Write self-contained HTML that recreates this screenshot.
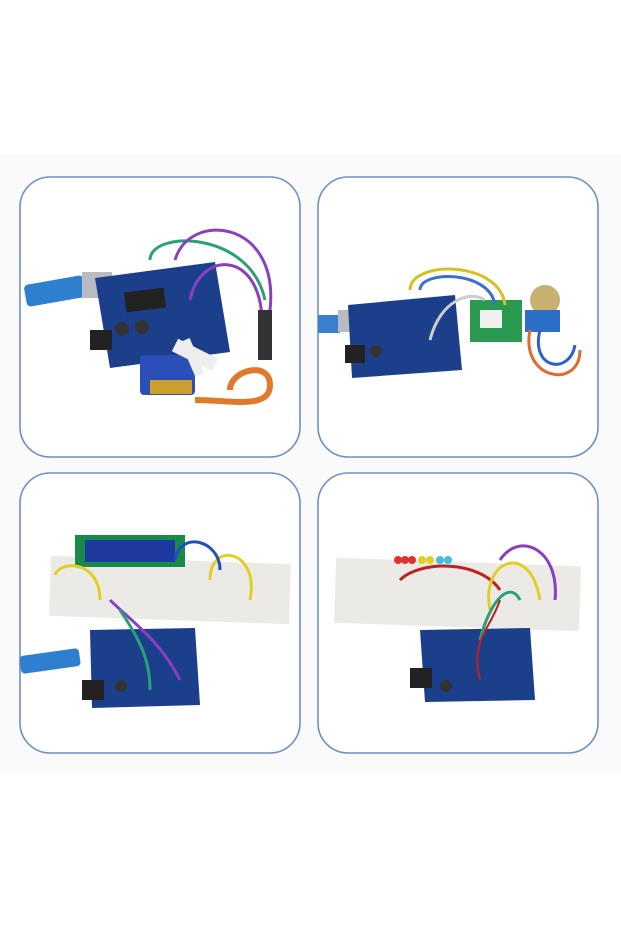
<!DOCTYPE html>
<html><head><style>
html,body{margin:0;padding:0;background:#fff;}
svg{display:block}
</style></head><body>
<svg width="621" height="931" viewBox="0 0 621 931" xmlns="http://www.w3.org/2000/svg">
<rect x="0" y="0" width="621" height="931" fill="#fff"/>
<rect x="0" y="155" width="621" height="620" fill="#fafafa"/>
<g fill="#fff" stroke="#6f8fc4" stroke-width="1.6">
<rect x="20" y="177" width="280" height="280" rx="30"/>
<rect x="318" y="177" width="280" height="280" rx="30"/>
<rect x="20" y="473" width="280" height="280" rx="30"/>
<rect x="318" y="473" width="280" height="280" rx="30"/>
</g>
<!-- Panel 1 -->
<rect x="25" y="280" width="60" height="22" rx="4" fill="#2f7fd0" transform="rotate(-10 55 291)"/>
<rect x="82" y="272" width="30" height="26" fill="#b8bcc2"/>
<polygon points="95,278 215,262 230,352 110,368" fill="#1c3f8c"/>
<rect x="125" y="290" width="40" height="20" fill="#222" transform="rotate(-7 145 300)"/>
<rect x="115" y="322" width="14" height="14" rx="7" fill="#333"/><rect x="135" y="320" width="14" height="14" rx="7" fill="#333"/>
<rect x="90" y="330" width="22" height="20" fill="#222"/>
<rect x="140" y="355" width="55" height="40" rx="4" fill="#2a4fb8"/>
<rect x="150" y="380" width="42" height="14" fill="#c9a030"/>
<path d="M175 345 L215 365" stroke="#eee" stroke-width="14"/>
<path d="M185 340 L200 375" stroke="#eee" stroke-width="10"/>
<path d="M150 260 C150 230 250 230 265 300" stroke="#2aa07a" stroke-width="3" fill="none"/>
<path d="M175 260 C190 210 280 220 270 310" stroke="#8a3fc0" stroke-width="3" fill="none"/>
<path d="M190 300 C200 250 260 250 262 320" stroke="#8a3fc0" stroke-width="3" fill="none"/>
<rect x="258" y="310" width="14" height="50" fill="#333"/>
<path d="M195 400 C230 400 270 410 270 385 C270 360 230 370 230 390" stroke="#e07a2a" stroke-width="6" fill="none"/>
<!-- Panel 2 -->
<rect x="318" y="315" width="22" height="18" fill="#3a7fd0"/>
<rect x="338" y="310" width="28" height="22" fill="#b8bcc2"/>
<polygon points="348,305 455,295 462,370 352,378" fill="#1c3f8c"/>
<rect x="345" y="345" width="20" height="18" fill="#222"/>
<rect x="370" y="345" width="12" height="12" rx="6" fill="#333"/>
<rect x="470" y="300" width="52" height="42" fill="#2a9a50"/>
<rect x="480" y="310" width="22" height="18" fill="#f0f0f0"/>
<circle cx="545" cy="300" r="15" fill="#c8b070"/>
<rect x="525" y="310" width="35" height="22" fill="#2a6fc8"/>
<path d="M410 290 C410 260 500 260 505 305" stroke="#d8c020" stroke-width="3" fill="none"/>
<path d="M420 290 C420 270 490 270 495 305" stroke="#3a70d0" stroke-width="3" fill="none"/>
<path d="M430 340 C440 300 470 290 485 300" stroke="#ccc" stroke-width="3" fill="none"/>
<path d="M530 330 C520 380 580 390 580 350" stroke="#e06a30" stroke-width="3" fill="none"/>
<path d="M540 330 C530 370 570 375 575 345" stroke="#3060d0" stroke-width="3" fill="none"/>
<!-- Panel 3 -->
<rect x="50" y="560" width="240" height="60" fill="#eceae6" transform="rotate(2 170 590)"/>
<rect x="75" y="535" width="110" height="32" fill="#1a8a4a"/>
<rect x="85" y="540" width="90" height="22" fill="#1c3aa0"/>
<rect x="20" y="652" width="60" height="18" rx="4" fill="#2f7fd0" transform="rotate(-8 50 661)"/>
<polygon points="90,630 195,628 200,705 92,708" fill="#1c3f8c"/>
<rect x="82" y="680" width="22" height="20" fill="#222"/>
<rect x="115" y="680" width="12" height="12" rx="6" fill="#333"/>
<path d="M55 575 C60 560 100 560 100 600" stroke="#e0d020" stroke-width="3" fill="none"/>
<path d="M210 580 C210 540 260 550 250 600" stroke="#e0d020" stroke-width="3" fill="none"/>
<path d="M110 600 C130 620 160 640 180 680" stroke="#8a3fc0" stroke-width="3" fill="none"/>
<path d="M120 610 C140 640 150 660 150 690" stroke="#2aa07a" stroke-width="3" fill="none"/>
<path d="M175 560 C180 530 220 540 220 570" stroke="#2050c0" stroke-width="3" fill="none"/>
<!-- Panel 4 -->
<rect x="335" y="562" width="245" height="65" fill="#eceae6" transform="rotate(2 457 595)"/>
<g fill="#e03030"><circle cx="398" cy="560" r="4"/><circle cx="405" cy="560" r="4"/><circle cx="412" cy="560" r="4"/></g>
<g fill="#e0d020"><circle cx="422" cy="560" r="4"/><circle cx="430" cy="560" r="4"/></g>
<g fill="#40c0e0"><circle cx="440" cy="560" r="4"/><circle cx="448" cy="560" r="4"/></g>
<polygon points="420,630 530,628 535,700 425,702" fill="#1c3f8c"/>
<rect x="410" y="668" width="22" height="20" fill="#222"/>
<rect x="440" y="680" width="12" height="12" rx="6" fill="#333"/>
<path d="M400 580 C420 560 480 560 500 590" stroke="#c02020" stroke-width="3" fill="none"/>
<path d="M490 610 C480 560 530 540 540 600" stroke="#e0d020" stroke-width="3" fill="none"/>
<path d="M500 560 C520 530 560 550 555 600" stroke="#8a3fc0" stroke-width="3" fill="none"/>
<path d="M480 640 C490 600 510 580 520 600" stroke="#2aa07a" stroke-width="3" fill="none"/>
<path d="M480 680 C470 640 490 630 500 600" stroke="#c02020" stroke-width="2" fill="none"/>
</svg>
</body></html>
